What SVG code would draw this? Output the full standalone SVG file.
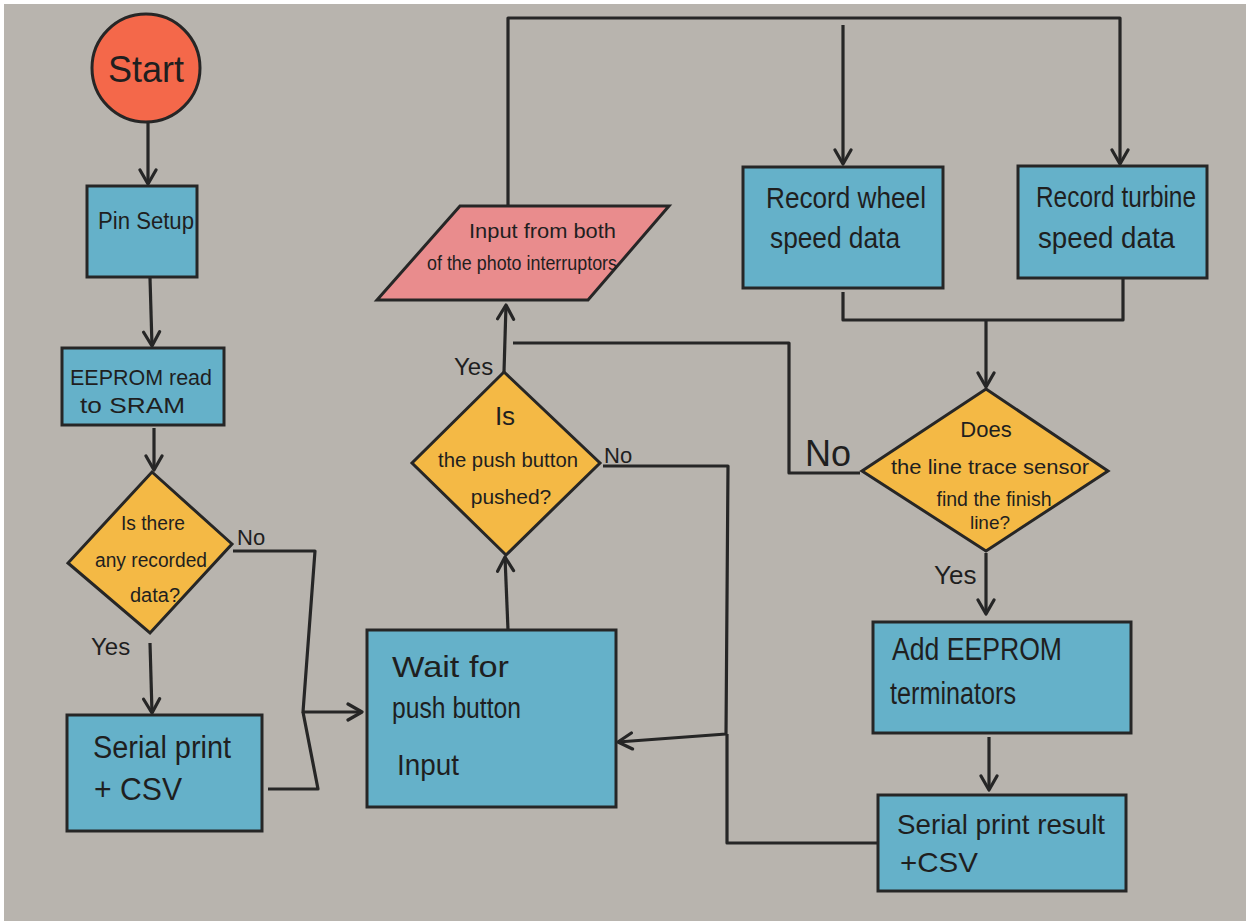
<svg xmlns="http://www.w3.org/2000/svg" width="1246" height="921" viewBox="0 0 1246 921">
<defs>
<style>
.bg{fill:#b8b4ae}
.box{fill:#65b1c9;stroke:#262626;stroke-width:3}
.dia{fill:#f4b945;stroke:#262626;stroke-width:3;stroke-linejoin:miter}
.io{fill:#e98c8d;stroke:#262626;stroke-width:3}
.term{fill:#f4684a;stroke:#262626;stroke-width:3}
.c{fill:none;stroke:#262626;stroke-width:3.2;stroke-linejoin:round}
.t{font-family:"Liberation Sans",Arial,sans-serif;fill:#1f1f1f}
.m{text-anchor:middle}
</style>
<marker id="ah" markerUnits="userSpaceOnUse" markerWidth="20" markerHeight="20" viewBox="0 0 20 20" refX="17" refY="10" orient="auto">
<path d="M3,2 L17,10 L3,18" fill="none" stroke="#262626" stroke-width="3.2" stroke-linecap="round" stroke-linejoin="round"/>
</marker>
</defs>
<rect x="0" y="0" width="1246" height="921" fill="#ffffff"/>
<rect class="bg" x="4" y="4" width="1242" height="917"/>

<g id="connectors">
<path class="c" d="M148,122 L148,184" marker-end="url(#ah)"/>
<path class="c" d="M150,278 L152,346" marker-end="url(#ah)"/>
<path class="c" d="M154,428 L154,470" marker-end="url(#ah)"/>
<path class="c" d="M233,551 L315,551 L303,712 L362,712" marker-end="url(#ah)"/>
<path class="c" d="M268,789 L318,789 L303,712"/>
<path class="c" d="M150,643 L152,713" marker-end="url(#ah)"/>
<path class="c" d="M508,630 L505,557" marker-end="url(#ah)"/>
<path class="c" d="M504,372 L506,305" marker-end="url(#ah)"/>
<path class="c" d="M508,206 L508,18 L1120,18 L1120,164" marker-end="url(#ah)"/>
<path class="c" d="M843,25 L843,164" marker-end="url(#ah)"/>
<path class="c" d="M843,292 L843,320 L1123,320 L1123,279"/>
<path class="c" d="M986,320 L986,387" marker-end="url(#ah)"/>
<path class="c" d="M860,473 L789,473 L789,343 L513,343"/>
<path class="c" d="M603,466 L728,466 L726,734 L618,742" marker-end="url(#ah)"/>
<path class="c" d="M877,843 L727,843 L727,734"/>
<path class="c" d="M986,553 L986,614" marker-end="url(#ah)"/>
<path class="c" d="M989,737 L989,790" marker-end="url(#ah)"/>
</g>

<g id="start">
<circle class="term" cx="146" cy="68" r="54"/>
<text class="t m" x="146" y="82" font-size="36">Start</text>
</g>

<g id="pin-setup">
<rect class="box" x="87" y="186" width="110" height="91"/>
<text class="t" x="98" y="229" font-size="23" textLength="96" lengthAdjust="spacingAndGlyphs">Pin Setup</text>
</g>

<g id="eeprom-read">
<rect class="box" x="62" y="348" width="162" height="77"/>
<text class="t" x="70" y="385" font-size="22" textLength="142" lengthAdjust="spacingAndGlyphs">EEPROM read</text>
<text class="t" x="80" y="413" font-size="22" textLength="105" lengthAdjust="spacingAndGlyphs">to SRAM</text>
</g>

<g id="recorded-data">
<polygon class="dia" points="152,472 232,544 150,633 68,563"/>
<text class="t m" x="153" y="530" font-size="20" textLength="64" lengthAdjust="spacingAndGlyphs">Is there</text>
<text class="t m" x="151" y="567" font-size="20" textLength="112" lengthAdjust="spacingAndGlyphs">any recorded</text>
<text class="t m" x="155" y="602" font-size="20">data?</text>
</g>
<text class="t" x="237" y="545" font-size="22">No</text>
<text class="t" x="91" y="655" font-size="24">Yes</text>

<g id="serial-print">
<rect class="box" x="67" y="715" width="195" height="116"/>
<text class="t" x="93" y="758" font-size="31" textLength="138" lengthAdjust="spacingAndGlyphs">Serial print</text>
<text class="t" x="94" y="800" font-size="31" textLength="88" lengthAdjust="spacingAndGlyphs">+ CSV</text>
</g>

<g id="wait">
<rect class="box" x="367" y="630" width="249" height="177"/>
<text class="t" x="392" y="677" font-size="30" textLength="117" lengthAdjust="spacingAndGlyphs">Wait for</text>
<text class="t" x="392" y="718" font-size="30" textLength="129" lengthAdjust="spacingAndGlyphs">push button</text>
<text class="t" x="397" y="775" font-size="30" textLength="62" lengthAdjust="spacingAndGlyphs">Input</text>
</g>

<g id="push-button">
<polygon class="dia" points="504,372 600,463 506,555 412,463"/>
<text class="t m" x="505" y="425" font-size="26">Is</text>
<text class="t m" x="508" y="467" font-size="21" textLength="140" lengthAdjust="spacingAndGlyphs">the push button</text>
<text class="t m" x="511" y="504" font-size="21">pushed?</text>
</g>
<text class="t" x="454" y="375" font-size="24">Yes</text>
<text class="t" x="604" y="463" font-size="22">No</text>

<g id="photo-input">
<polygon class="io" points="460,206 669,206 588,300 377,300"/>
<text class="t" x="469" y="238" font-size="20" textLength="147" lengthAdjust="spacingAndGlyphs">Input from both</text>
<text class="t" x="427" y="270" font-size="20" textLength="190" lengthAdjust="spacingAndGlyphs">of the photo interruptors</text>
</g>

<g id="wheel">
<rect class="box" x="743" y="167" width="200" height="121"/>
<text class="t" x="766" y="208" font-size="29" textLength="160" lengthAdjust="spacingAndGlyphs">Record wheel</text>
<text class="t" x="770" y="248" font-size="29" textLength="130" lengthAdjust="spacingAndGlyphs">speed data</text>
</g>

<g id="turbine">
<rect class="box" x="1018" y="166" width="189" height="112"/>
<text class="t" x="1036" y="207" font-size="29" textLength="160" lengthAdjust="spacingAndGlyphs">Record turbine</text>
<text class="t" x="1038" y="248" font-size="29" textLength="137" lengthAdjust="spacingAndGlyphs">speed data</text>
</g>

<g id="finish-line">
<polygon class="dia" points="986,389 1108,471 986,551 862,471"/>
<text class="t m" x="986" y="437" font-size="22">Does</text>
<text class="t m" x="990" y="474" font-size="21" textLength="198" lengthAdjust="spacingAndGlyphs">the line trace sensor</text>
<text class="t m" x="994" y="506" font-size="21" textLength="115" lengthAdjust="spacingAndGlyphs">find the finish</text>
<text class="t m" x="990" y="529" font-size="19">line?</text>
</g>
<text class="t" x="805" y="466" font-size="36">No</text>
<text class="t" x="934" y="584" font-size="26">Yes</text>

<g id="add-eeprom">
<rect class="box" x="873" y="622" width="258" height="111"/>
<text class="t" x="892" y="660" font-size="31" textLength="170" lengthAdjust="spacingAndGlyphs">Add EEPROM</text>
<text class="t" x="890" y="704" font-size="31" textLength="126" lengthAdjust="spacingAndGlyphs">terminators</text>
</g>

<g id="serial-result">
<rect class="box" x="878" y="795" width="248" height="96"/>
<text class="t" x="897" y="834" font-size="28" textLength="208" lengthAdjust="spacingAndGlyphs">Serial print result</text>
<text class="t" x="900" y="872" font-size="28" textLength="78" lengthAdjust="spacingAndGlyphs">+CSV</text>
</g>
</svg>
